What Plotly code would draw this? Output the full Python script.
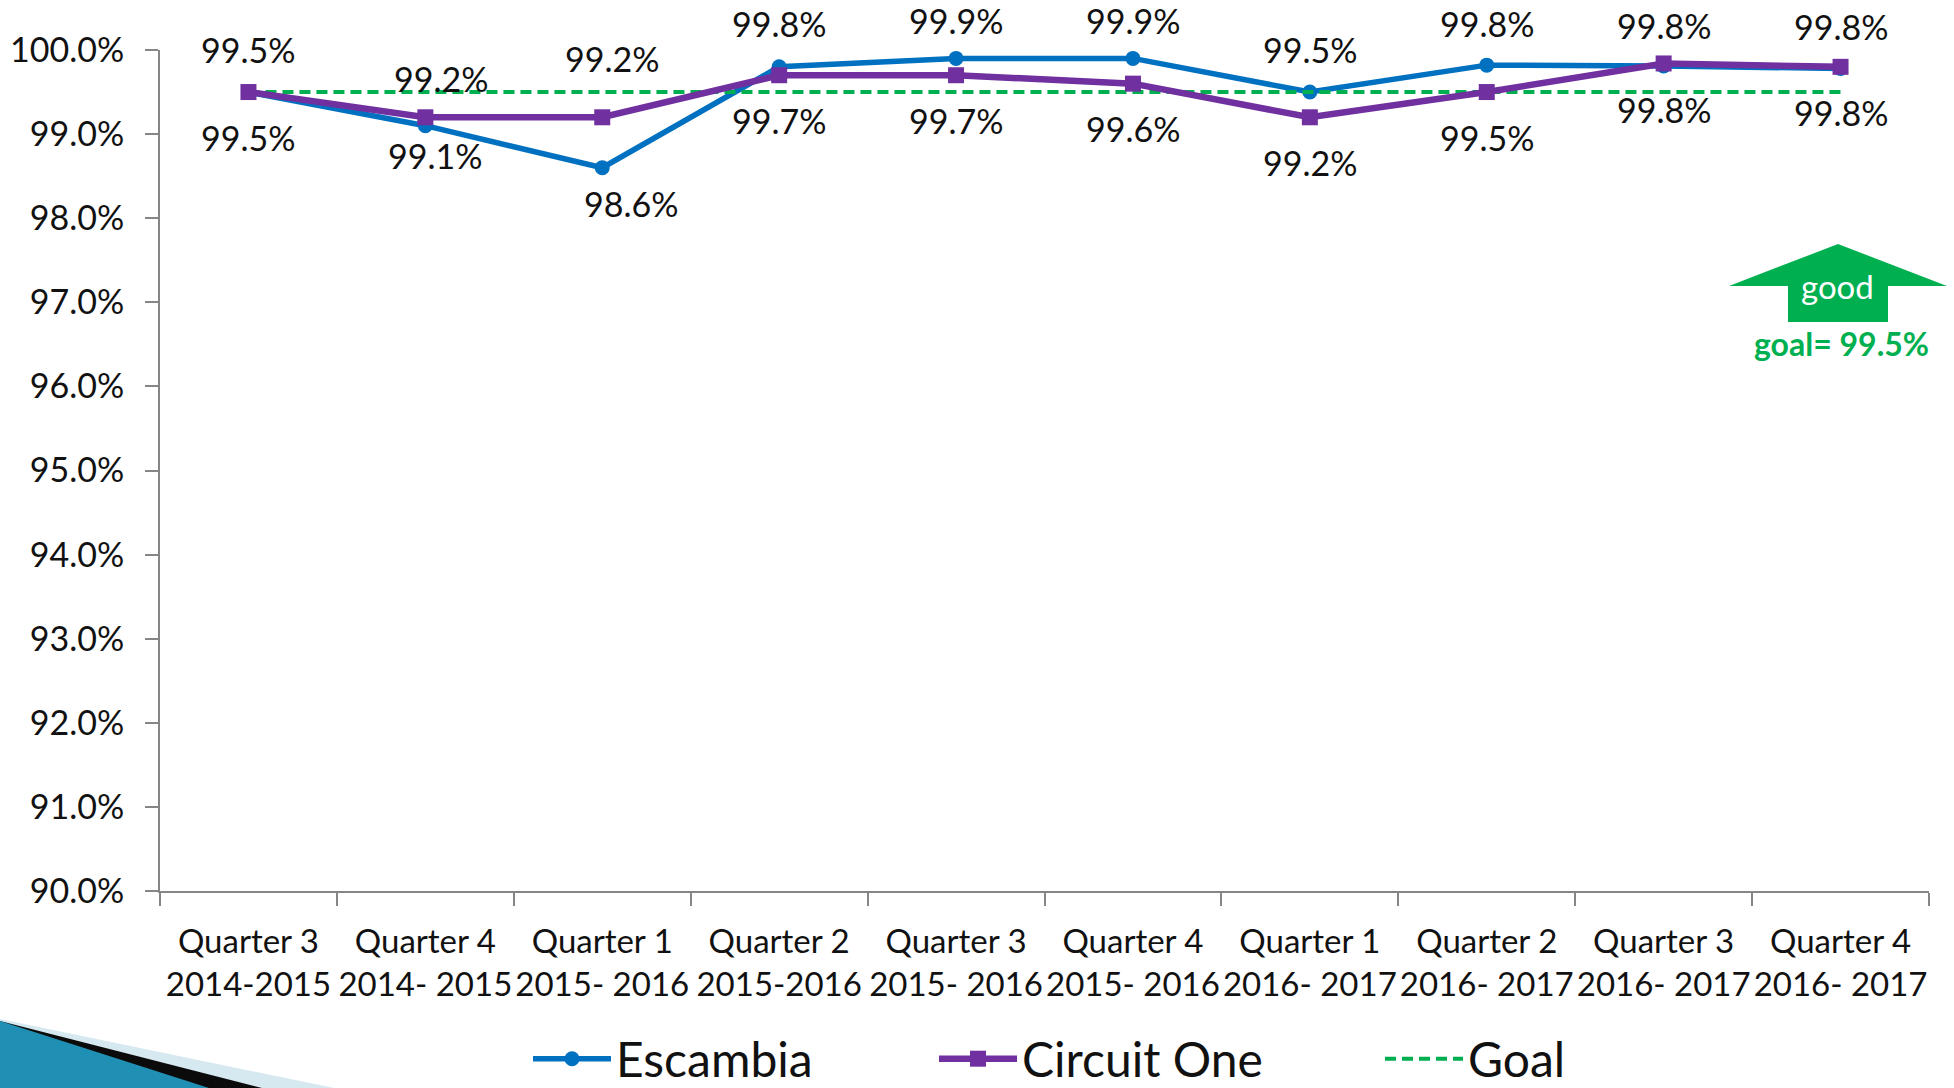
import plotly.graph_objects as go

categories = ["Quarter 3<br>2014-2015", "Quarter 4<br>2014- 2015", "Quarter 1<br>2015- 2016",
              "Quarter 2<br>2015-2016", "Quarter 3<br>2015- 2016", "Quarter 4<br>2015- 2016",
              "Quarter 1<br>2016- 2017", "Quarter 2<br>2016- 2017", "Quarter 3<br>2016- 2017",
              "Quarter 4<br>2016- 2017"]
escambia = [99.5, 99.1, 98.6, 99.8, 99.9, 99.9, 99.5, 99.82, 99.81, 99.78]
circuit_one = [99.5, 99.2, 99.2, 99.7, 99.7, 99.6, 99.2, 99.5, 99.84, 99.8]
goal = [99.5] * 10

W, H = 1954, 1088
L, R, T, B = 160, 1929, 50, 891
FONT = "Lato"
BLUE, PURPLE, GREEN = "#0070C0", "#7030A0", "#00B050"
TXT = "#111111"
LABEL = 34

px = lambda v: (v - L) / (R - L)
py = lambda v: (B - v) / (B - T)
def poly(points):
    return "M" + " L".join(f"{px(a):.5f},{py(b):.5f}" for a, b in points) + " Z"

fig = go.Figure()
fig.add_trace(go.Scatter(x=categories, y=escambia, name="Escambia", mode="lines+markers",
                         line=dict(color=BLUE, width=5.5), marker=dict(symbol="circle", size=15, color=BLUE),
                         legend="legend"))
fig.add_trace(go.Scatter(x=categories, y=goal, name="Goal", mode="lines",
                         line=dict(color=GREEN, width=4, dash="11px,6px"), legend="legend3"))
fig.add_trace(go.Scatter(x=categories, y=circuit_one, name="Circuit One", mode="lines+markers",
                         line=dict(color=PURPLE, width=6.5), marker=dict(symbol="square", size=16, color=PURPLE),
                         legend="legend2"))

# label offsets (px) relative to each point
esc_off = [(0, -43), (10, 30), (29, 36), (0, -43), (0, -38), (0, -38), (0, -43), (0, -42), (0, -40), (0, -42)]
cir_off = [(0, 45), (16, -39), (10, -59), (0, 45), (0, 45), (0, 45), (0, 45), (0, 45), (0, 46), (0, 46)]
for vals, offs in ((escambia, esc_off), (circuit_one, cir_off)):
    for c, v, (dx, dy) in zip(categories, vals, offs):
        fig.add_annotation(x=c, y=v, text=f"{v:.1f}%", showarrow=False, xshift=dx, yshift=-dy,
                           font=dict(family=FONT, size=LABEL, color=TXT))

shapes = [
    dict(type="path", xref="paper", yref="paper", layer="below", line_width=0, fillcolor="#D6E8F0",
         path=poly([(0, 1019), (334, 1088), (0, 1088)])),
    dict(type="path", xref="paper", yref="paper", layer="below", line_width=0, fillcolor="#0B0B0B",
         path=poly([(0, 1021), (262, 1088), (0, 1088)])),
    dict(type="path", xref="paper", yref="paper", layer="below", line_width=0, fillcolor="#1F8FB4",
         path=poly([(0, 1021), (209, 1088), (0, 1088)])),
    dict(type="path", xref="paper", yref="paper", line_width=0, fillcolor=GREEN,
         path=poly([(1838, 244), (1947, 286), (1888, 286), (1888, 322), (1788, 322), (1788, 286), (1729, 286)])),
]
fig.add_annotation(xref="paper", yref="paper", x=px(1837), y=py(286), text="good", showarrow=False,
                   xanchor="center", yanchor="middle", font=dict(family=FONT, size=33, color="white"))
fig.add_annotation(xref="paper", yref="paper", x=px(1841), y=py(344), text="<b>goal= 99.5%</b>", showarrow=False,
                   xanchor="center", yanchor="middle", font=dict(family=FONT, size=32, color=GREEN))

axis = dict(showgrid=False, zeroline=False, showline=True, linecolor="#868686", linewidth=2,
            ticks="outside", ticklen=13, tickwidth=1.5, tickcolor="#868686")
legend_common = dict(orientation="h", xanchor="left", yanchor="middle", y=py(1059), itemwidth=78,
                     bgcolor="rgba(0,0,0,0)", font=dict(family=FONT, size=48, color=TXT))

fig.update_layout(
    width=W, height=H, autosize=False, paper_bgcolor="white", plot_bgcolor="white",
    margin=dict(l=L, r=W - R, t=T, b=H - B, autoexpand=False),
    shapes=shapes,
    xaxis=dict(axis, type="category", tickson="boundaries", range=[-0.5, 9.5], tickangle=0,
               ticklabelstandoff=20, tickfont=dict(family=FONT, size=33, color=TXT)),
    yaxis=dict(axis, range=[90, 100], dtick=1, tickformat=".1f", ticksuffix="%", ticklabelstandoff=14,
               tickfont=dict(family=FONT, size=LABEL, color=TXT)),
    showlegend=True,
    legend=dict(legend_common, x=px(528)),
    legend2=dict(legend_common, x=px(934)),
    legend3=dict(legend_common, x=px(1380)),
)
fig.write_html("out.html", config=dict(displayModeBar=False),
               post_script="document.body.style.margin='0';document.body.style.overflow='hidden';")
